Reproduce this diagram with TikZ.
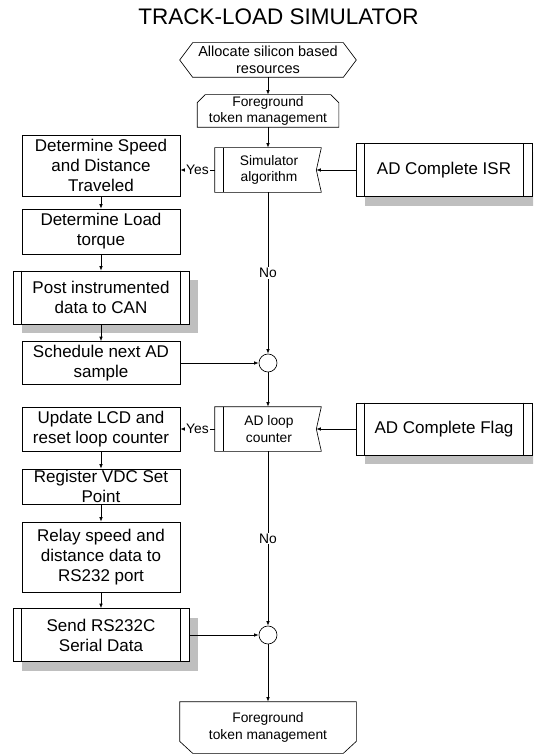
\documentclass[tikz,border=0pt]{standalone}
\usepackage{fontspec}
\setmainfont{Liberation Sans}
\usetikzlibrary{arrows.meta,calc,shadows}
\begin{document}
\begin{tikzpicture}[x=1pt,y=-1pt,
  line width=0.65pt,
  >={Latex[length=4.5pt,width=3.5pt]},
  bigtxt/.style={font=\fontsize{17}{20}\selectfont},
  smalltxt/.style={font=\fontsize{13.8}{16.7}\selectfont},
  box/.style={draw, fill=white, rectangle, inner sep=0pt, align=center, bigtxt, minimum width=158pt},
  pbox/.style={draw, fill=white, rectangle, inner sep=0pt, align=center, bigtxt, minimum width=176pt,
    general shadow={fill=gray!50, shadow xshift=9pt, shadow yshift=-9pt}},
  fshape/.style={rectangle, inner sep=0pt, align=center, smalltxt},
  junction/.style={circle, draw, fill=white, minimum size=18pt, inner sep=0pt},
  lbl/.style={fill=white, inner sep=1pt, smalltxt},
  flow/.style={->}
]
\clip (0,0) rectangle (533,754);
\fill[white] (0,0) rectangle (533,754);

% title
\node[font=\fontsize{22.5}{27}\selectfont] (title) at (278.5,17) {TRACK-LOAD SIMULATOR};

% top hexagon
\node[fshape, minimum width=150pt, minimum height=34pt, font=\fontsize{14.5}{16.7}\selectfont] (alloc) at (268,60) {Allocate silicon based\\resources};
\draw ($(alloc.west)+(-13,0)$) -- (alloc.north west) -- (alloc.north east) -- ($(alloc.east)+(13,0)$) -- (alloc.south east) -- (alloc.south west) -- cycle;

% foreground top
\node[fshape, minimum width=141pt, minimum height=32pt] (fg1) at (268,111) {Foreground\\token management};
\draw ([yshift=-8pt]fg1.north west) -- ([xshift=8pt]fg1.north west) -- ([xshift=-8pt]fg1.north east) -- ([yshift=-8pt]fg1.north east) -- (fg1.south east) -- (fg1.south west) -- cycle;

% simulator algorithm
\node[fshape, minimum width=106pt, minimum height=44pt] (sim) at (268,170) {\hspace*{2pt}Simulator\\\hspace*{2pt}algorithm};
\coordinate (simnotch) at ($(sim.east)+(-5,0)$);
\draw (sim.north west) -- (sim.north east) -- (simnotch) -- (sim.south east) -- (sim.south west) -- cycle;
\draw ([xshift=9pt]sim.north west) -- ([xshift=9pt]sim.south west);

% AD Complete ISR
\node[pbox, minimum height=53pt] (isr) at (444,170) {AD Complete ISR};
\draw ([xshift=9pt]isr.north west) -- ([xshift=9pt]isr.south west);
\draw ([xshift=-9pt]isr.north east) -- ([xshift=-9pt]isr.south east);

% left column top
\node[box, minimum height=61pt] (dsd) at (101,165.5) {Determine Speed\\and Distance\\Traveled};
\node[box, minimum height=45pt] (dlt) at (101,231.5) {Determine Load\\torque};
\node[pbox, minimum height=53pt] (post) at (101,297.5) {Post instrumented\\data to CAN};
\draw ([xshift=9pt]post.north west) -- ([xshift=9pt]post.south west);
\draw ([xshift=-9pt]post.north east) -- ([xshift=-9pt]post.south east);
\node[box, minimum height=43pt] (sched) at (101,363) {Schedule next AD\\sample};

% junction 1
\node[junction] (c1) at (268,363) {};

% AD loop counter
\node[fshape, minimum width=106pt, minimum height=44pt] (adl) at (268,429) {\hspace*{2pt}AD loop\\\hspace*{2pt}counter};
\coordinate (adlnotch) at ($(adl.east)+(-5,0)$);
\draw (adl.north west) -- (adl.north east) -- (adlnotch) -- (adl.south east) -- (adl.south west) -- cycle;
\draw ([xshift=9pt]adl.north west) -- ([xshift=9pt]adl.south west);

% AD Complete Flag
\node[pbox, minimum height=52pt] (flag) at (444,429) {AD Complete Flag};
\draw ([xshift=9pt]flag.north west) -- ([xshift=9pt]flag.south west);
\draw ([xshift=-9pt]flag.north east) -- ([xshift=-9pt]flag.south east);

% left column bottom
\node[box, minimum height=44pt] (lcd) at (101,429) {Update LCD and\\reset loop counter};
\node[box, minimum height=35pt] (reg) at (101,486.5) {Register VDC Set\\Point};
\node[box, minimum height=70pt] (relay) at (101,557) {Relay speed and\\distance data to\\RS232 port};
\node[pbox, minimum height=53pt] (send) at (101,635) {Send RS232C\\Serial Data};
\draw ([xshift=9pt]send.north west) -- ([xshift=9pt]send.south west);
\draw ([xshift=-9pt]send.north east) -- ([xshift=-9pt]send.south east);

% junction 2
\node[junction] (c2) at (268,635) {};

% foreground bottom
\node[fshape, minimum width=176pt, minimum height=51pt] (fg2) at (268,727.5) {Foreground\\token management};
\draw (fg2.north west) -- (fg2.north east) -- ([yshift=12pt]fg2.south east) -- ([xshift=-13pt]fg2.south east) -- ([xshift=13pt]fg2.south west) -- ([yshift=12pt]fg2.south west) -- cycle;

% connectors
\draw[flow] (alloc.south) -- (fg1.north);
\draw[flow] (fg1.south) -- (sim.north);
\draw[flow] (isr.west) -- (simnotch);
\draw[flow] (sim.west) -- node[lbl]{Yes} (sim.west -| dsd.east);
\draw[flow] (dsd.south) -- (dlt.north);
\draw[flow] (dlt.south) -- (post.north);
\draw[flow] (post.south) -- (sched.north);
\draw[flow] (sim.south) -- node[lbl]{No} (c1.north);
\draw[flow] (sched.east) -- (c1.west);
\draw[flow] (c1.south) -- (adl.north);
\draw[flow] (flag.west) -- (adlnotch);
\draw[flow] (adl.west) -- node[lbl]{Yes} (lcd.east);
\draw[flow] (lcd.south) -- (reg.north);
\draw[flow] (reg.south) -- (relay.north);
\draw[flow] (relay.south) -- (send.north);
\draw[flow] (adl.south) -- node[lbl]{No} (c2.north);
\draw[flow] (send.east) -- (c2.west);
\draw[flow] (c2.south) -- (fg2.north);
\end{tikzpicture}
\end{document}
